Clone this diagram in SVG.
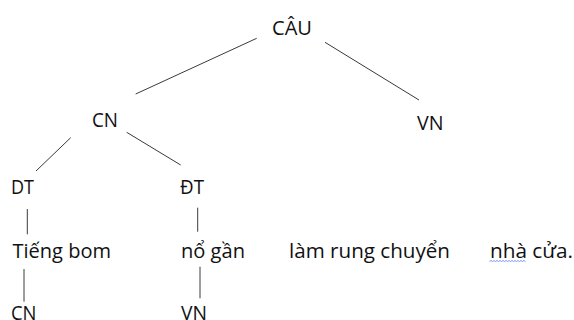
<svg xmlns="http://www.w3.org/2000/svg" width="574" height="320" viewBox="0 0 574 320">
<style>
text{font-family:"Open Sans","Noto Sans","Liberation Sans",sans-serif;font-size:20.5px;fill:#111}
.c line{stroke:#3a3a3a;stroke-width:1}
</style>
<rect width="574" height="320" fill="#fff"/>
<g class="c" id="connectors">
<line x1="256.7" y1="38.3" x2="135.7" y2="94"/>
<line x1="325" y1="42.3" x2="419" y2="100"/>
<line x1="70.7" y1="137.7" x2="36" y2="171"/>
<line x1="126.7" y1="132.3" x2="180.7" y2="165"/>
<line x1="27.3" y1="209" x2="27.3" y2="234.3"/>
<line x1="197.7" y1="207.7" x2="197.7" y2="231.7"/>
<line x1="24" y1="269" x2="24" y2="301.7"/>
<line x1="200" y1="266.7" x2="200" y2="298.3"/>
</g>
<g id="cau"><text x="272" y="34.5" textLength="40" lengthAdjust="spacingAndGlyphs">CÂU</text></g>
<g id="cn"><text x="92" y="126.7" textLength="26" lengthAdjust="spacingAndGlyphs">CN</text></g>
<g id="vn"><text x="417" y="130" textLength="26.5" lengthAdjust="spacingAndGlyphs">VN</text></g>
<g id="dt"><text x="11" y="194" textLength="23" lengthAdjust="spacingAndGlyphs">DT</text></g>
<g id="dt2"><text x="180" y="194" textLength="24" lengthAdjust="spacingAndGlyphs">ĐT</text></g>
<g id="tieng-bom"><text x="12.5" y="258" textLength="98.5" lengthAdjust="spacingAndGlyphs">Tiếng bom</text></g>
<g id="no-gan"><text x="181" y="258" textLength="64" lengthAdjust="spacingAndGlyphs">nổ gần</text></g>
<g id="lam-rung"><text x="289" y="258" textLength="161" lengthAdjust="spacingAndGlyphs">làm rung chuyển</text></g>
<g id="nha-cua"><text x="490" y="258" textLength="83" lengthAdjust="spacingAndGlyphs">nhà cửa.</text>
<path d="M489.5 261.5 l1.5 -1 l1.5 1 l1.5 -1 l1.5 1 l1.5 -1 l1.5 1 l1.5 -1 l1.5 1 l1.5 -1 l1.5 1 l1.5 -1 l1.5 1 l1.5 -1 l1.5 1 l1.5 -1 l1.5 1 l1.5 -1 l1.5 1 l1.5 -1 l1.5 1 l1.5 -1 l1.5 1 l1.5 -1 l1.5 1" fill="none" stroke="#5b7cf0" stroke-width="0.8"/></g>
<g id="cn2"><text x="11" y="319.5" textLength="25.5" lengthAdjust="spacingAndGlyphs">CN</text></g>
<g id="vn2"><text x="181" y="319.5" textLength="26" lengthAdjust="spacingAndGlyphs">VN</text></g>
</svg>
